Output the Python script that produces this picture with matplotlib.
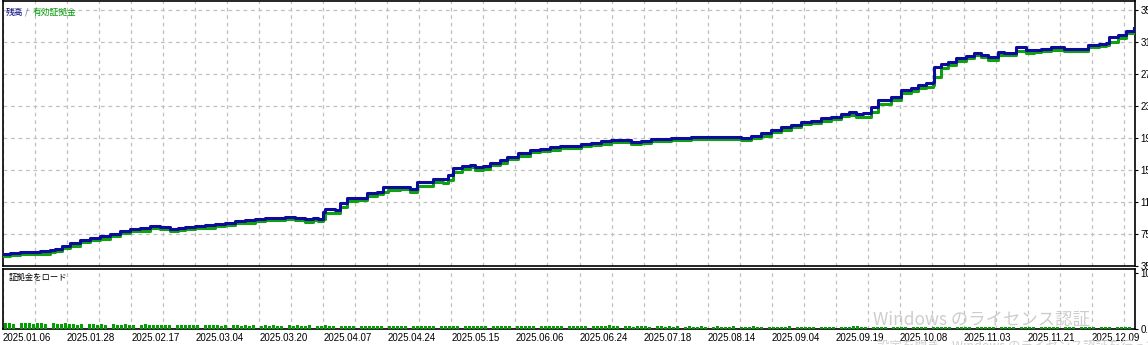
import numpy as np
import matplotlib
matplotlib.use("Agg")
import matplotlib.pyplot as plt

# Balance / equity history (x = position along the tester time axis, y = account value)
trade_pos = [0, 7, 17, 27, 37, 47, 52, 59, 67, 77,
             87, 97, 107, 117, 127, 137, 147, 157, 167, 175,
             182, 192, 202, 212, 222, 232, 242, 252, 262, 272,
             282, 292, 302, 310, 315, 320, 322, 332, 337, 344,
             354, 364, 374, 380, 385, 397, 407, 414, 430, 440,
             445, 450, 459, 467, 472, 480, 487, 497, 504, 510,
             515, 527, 537, 547, 557, 567, 577, 587, 597, 607,
             617, 627, 637, 647, 657, 667, 677, 687, 697, 707,
             717, 727, 737, 747, 757, 767, 777, 787, 797, 807,
             817, 827, 837, 845, 852, 859, 867, 874, 887, 897,
             907, 914, 922, 929, 930, 937, 944, 952, 962, 970,
             977, 984, 994, 1000, 1012, 1022, 1030, 1037, 1047, 1060,
             1070, 1084, 1095, 1102, 1105, 1114, 1122, 1130]

balance = [50000, 51250, 52500, 52500, 53750, 55000, 56250, 60000, 63750, 67500,
           70000, 72500, 75000, 78750, 81250, 82500, 85000, 83750, 81250, 82500,
           83750, 85000, 86250, 87500, 88750, 91250, 92500, 93750, 95000, 95000,
           96250, 95000, 93750, 95000, 93750, 102500, 106250, 105000, 113750, 120000,
           120000, 126250, 127500, 133750, 133750, 133750, 131250, 140000, 143750, 143750,
           148750, 157500, 160000, 161250, 158750, 160000, 163750, 167500, 171250, 171250,
           176250, 180000, 181250, 183750, 185000, 185000, 187500, 188750, 191250, 192500,
           192500, 190000, 191250, 193750, 193750, 195000, 195000, 196250, 196250, 196250,
           196250, 196250, 195000, 197500, 201250, 205000, 208750, 211250, 215000, 216250,
           220000, 221250, 225000, 227500, 225000, 226250, 233750, 242500, 246250, 255000,
           257500, 261250, 263750, 265000, 283750, 287500, 290000, 295000, 297500, 301250,
           298750, 296250, 302500, 301250, 308750, 305000, 305000, 306250, 308750, 306250,
           306250, 311250, 312500, 313750, 321250, 323750, 328750, 332500]

equity = [47500, 48750, 50000, 50000, 50000, 52500, 53750, 57500, 60000, 65000,
          67500, 68750, 72500, 76250, 78750, 78750, 82500, 81250, 78750, 80000,
          81250, 82500, 82500, 85000, 86250, 88750, 88750, 91250, 92500, 92500,
          93750, 92500, 90000, 92500, 91250, 93750, 101250, 101250, 108750, 116250,
          117500, 122500, 125000, 127500, 130000, 131250, 127500, 135000, 140000, 138750,
          142500, 152500, 156250, 158750, 155000, 156250, 161250, 163750, 168750, 168750,
          172500, 177500, 178750, 180000, 182500, 182500, 185000, 186250, 187500, 190000,
          190000, 187500, 188750, 191250, 191250, 192500, 192500, 193750, 193750, 193750,
          193750, 193750, 192500, 195000, 197500, 202500, 205000, 208750, 212500, 213750,
          216250, 218750, 222500, 223750, 221250, 221250, 227500, 237500, 242500, 251250,
          253750, 257500, 258750, 261250, 271250, 282500, 286250, 291250, 295000, 298750,
          296250, 292500, 298750, 298750, 303750, 301250, 302500, 303750, 305000, 303750,
          303750, 308750, 310000, 311250, 315000, 320000, 326250, 330000]

# Margin load (%) per bar
margin_load = [10, 10, 9, 0, 10, 10, 11, 9, 10, 10, 9, 0, 10, 9, 9, 10, 9, 9, 8, 9,
               0, 9, 9, 8, 9, 8, 0, 9, 8, 8, 9, 8, 8, 0, 8, 9, 8, 7, 8, 8,
               7, 8, 0, 8, 7, 8, 7, 7, 8, 0, 7, 7, 8, 7, 6, 7, 0, 7, 7, 6,
               7, 6, 7, 0, 6, 7, 6, 7, 6, 6, 0, 7, 6, 7, 6, 6, 7, 0, 6, 6,
               7, 6, 6, 0, 6, 5, 6, 6, 0, 6, 6, 5, 6, 6, 6, 0, 5, 6, 6, 5,
               6, 0, 6, 5, 6, 5, 5, 6, 0, 5, 6, 5, 5, 5, 0, 6, 5, 5, 6, 5,
               5, 0, 5, 5, 6, 5, 5, 0, 5, 5, 5, 6, 5, 0, 5, 5, 5, 5, 5, 5,
               0, 5, 5, 5, 5, 5, 0, 5, 5, 5, 5, 8, 5, 5, 0, 5, 5, 4, 5, 5,
               5, 4, 0, 5, 5, 4, 5, 4, 5, 0, 4, 5, 4, 4, 5, 4, 0, 4, 5, 4,
               4, 4, 5, 0, 4, 4, 4, 5, 4, 4, 0, 4, 4, 4, 4, 4, 5, 0, 4, 4,
               4, 4, 4, 0, 4, 4, 4, 4, 0, 4, 4, 4, 6, 6, 4, 4, 0, 4, 4, 4,
               3, 0, 4, 3, 3, 4, 0, 3, 3, 4, 3, 0, 3, 3, 3, 4, 3, 0, 3, 3,
               4, 3, 0, 3, 3, 3, 4, 3, 0, 3, 3, 3, 3, 0, 4, 3, 3, 3, 0, 3,
               3, 3, 4, 3, 0, 3, 3, 3, 0, 3, 4, 3, 3, 0, 3, 3, 3, 0, 3, 3,
               3, 3]

date_labels = ["2025.01.06", "2025.01.28", "2025.02.17", "2025.03.04", "2025.03.20",
               "2025.04.07", "2025.04.24", "2025.05.15", "2025.06.06", "2025.06.24",
               "2025.07.18", "2025.08.14", "2025.09.04", "2025.09.19", "2025.10.08",
               "2025.11.03", "2025.11.21", "2025.12.09"]
value_ticks = [35000, 75000, 115000, 155000, 195000, 235000, 275000, 315000, 355000]
load_ticks = [0, 100]

W, H = 1148, 345
CJK = ["Noto Sans CJK JP", "DejaVu Sans"]
plt.rcParams['font.family'] = ["Liberation Sans", "DejaVu Sans"]

fig = plt.figure(figsize=(W / 100, H / 100), dpi=100)


def px_axes(x0, y0, x1, y1):
    return fig.add_axes([x0 / W, 1 - y1 / H, (x1 - x0) / W, (y1 - y0) / H])


x_max = 1131
grid_kw = dict(color='#c0c0c0', linestyle=(0, (3, 3)), linewidth=0.9)
label_pos = np.arange(len(date_labels)) * 64
mid_pos = label_pos + 32

# --- upper pane: balance / equity
ax = px_axes(3, 1, 1135, 266)
ax.plot(trade_pos, equity, drawstyle='steps-post', color='#10a010', linewidth=2.2, zorder=3)
ax.plot(trade_pos, balance, drawstyle='steps-post', color='#0c0c9c', linewidth=2.2, zorder=4)
ax.set_xlim(0, x_max)
ax.set_ylim(35000, 35000 + 265 * 1250)
ax.yaxis.tick_right()
ax.set_yticks(value_ticks)
ax.set_yticklabels([str(v) for v in value_ticks])
ax.tick_params(axis='y', length=2.5, pad=1.5, labelsize=7, direction='out', width=0.8)
ax.set_xticks(label_pos)
ax.set_xticks(mid_pos[mid_pos < x_max], minor=True)
ax.tick_params(axis='x', which='both', length=0, labelbottom=False)
ax.grid(True, which='major', **grid_kw)
ax.xaxis.grid(True, which='minor', **grid_kw)
for s in ax.spines.values():
    s.set_linewidth(1.2)
    s.set_color('black')

fig.text(6 / W, 1 - 12 / H, "残高", color='#00007a', fontsize=6.3, family=CJK, va='center', ha='left')
fig.text(25 / W, 1 - 12 / H, "/", color='#4a6fb0', fontsize=6.3, family=CJK, va='center', ha='left')
fig.text(33 / W, 1 - 12 / H, "有効証拠金", color='#009a00', fontsize=6.3, family=CJK, va='center', ha='left')

# --- lower pane: margin load
ax2 = px_axes(3, 269, 1135, 329)
bar_x = np.arange(len(margin_load)) * 4 + 2
ax2.bar(bar_x, margin_load, width=3, color='#00a000', align='center', zorder=3)
ax2.set_xlim(0, x_max)
ax2.set_ylim(0, 107)
ax2.yaxis.tick_right()
ax2.set_yticks(load_ticks)
ax2.set_yticklabels(["0.00", "100.00"])
ax2.tick_params(axis='y', length=2.5, pad=1.5, labelsize=7, width=0.8)
ax2.set_xticks(label_pos)
ax2.set_xticklabels(date_labels, ha='left', fontsize=7)
ax2.set_xticks(mid_pos[mid_pos < x_max], minor=True)
ax2.tick_params(axis='x', which='both', length=0, pad=3)
ax2.xaxis.grid(True, which='both', **grid_kw)
for s in ax2.spines.values():
    s.set_linewidth(1.2)
    s.set_color('black')
ax2.text(6 / 1132, 0.86, "証拠金をロード", transform=ax2.transAxes, fontsize=6,
         family=CJK, color='black', va='center', ha='left')

# Windows activation watermark
fig.text(873 / W, 1 - 320 / H, "Windows のライセンス認証", color='#c8c8c8', fontsize=12.5,
         family=CJK, va='center', ha='left', alpha=0.9, zorder=10)
fig.text(877 / W, 1 - 347 / H, "設定を開き、Windows のライセンス認証を行ってください", color='#cccccc',
         fontsize=9, family=CJK, va='center', ha='left', alpha=0.9, zorder=10)

fig.savefig("out.png", dpi=100)
